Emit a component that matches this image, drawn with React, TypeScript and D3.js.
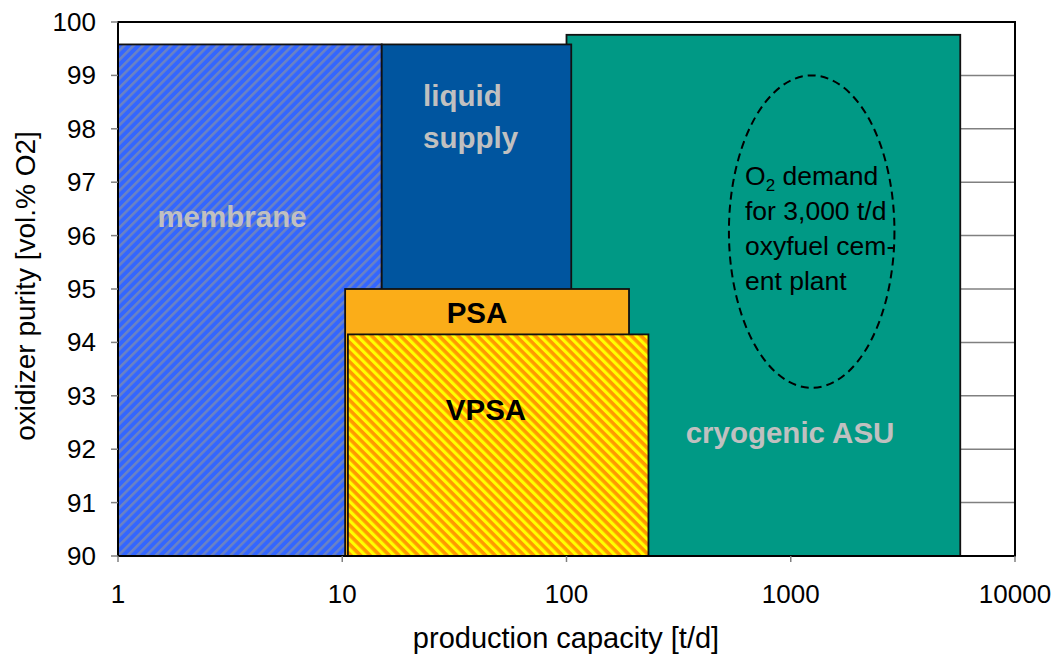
import { useEffect, useRef } from "react";
import * as d3 from "d3";

// technology regions: capacity range [t/d] and purity range [vol.% O2]
const techNames = ["membrane", "cryogenic ASU", "liquid supply", "PSA", "VPSA"];
const capMin = [1, 100, 15, 10.3, 10.6];
const capMax = [15, 5700, 105, 190, 232];
const purityMin = [90, 90, 90, 90, 90];
const purityMax = [99.58, 99.76, 99.58, 95.0, 94.15];
const fills = ["url(#hatchBlue)", "#009985", "#00559f", "#fbad18", "url(#hatchOrange)"];

const yTicks = [90, 91, 92, 93, 94, 95, 96, 97, 98, 99, 100];
const xTicks = [1, 10, 100, 1000, 10000];

// dashed ellipse for the cement plant O2 demand
const ellipseCap = [530, 2900];
const ellipsePurity = [93.15, 99.0];
const ellipseText = ["demand", "for 3,000 t/d", "oxyfuel cem-", "ent plant"];

export default function App() {
  const svgRef = useRef<SVGSVGElement>(null);

  useEffect(() => {
    const width = 1056;
    const height = 659;
    const margin = { left: 118, right: 41, top: 22, bottom: 103 };
    const font = "'Liberation Sans', Arial, sans-serif";

    const svg = d3.select(svgRef.current);
    svg.selectAll("*").remove();

    const x = d3
      .scaleLog()
      .domain([1, 10000])
      .range([margin.left, width - margin.right]);
    const y = d3
      .scaleLinear()
      .domain([90, 100])
      .range([height - margin.bottom, margin.top]);

    const defs = svg.append("defs");
    const blue = defs
      .append("pattern")
      .attr("id", "hatchBlue")
      .attr("patternUnits", "userSpaceOnUse")
      .attr("width", 6.6)
      .attr("height", 6.6)
      .attr("patternTransform", "rotate(45)");
    blue.append("rect").attr("width", 6.6).attr("height", 6.6).attr("fill", "#3366ff");
    blue.append("rect").attr("width", 2.6).attr("height", 6.6).attr("fill", "#6a82c4");

    const orange = defs
      .append("pattern")
      .attr("id", "hatchOrange")
      .attr("patternUnits", "userSpaceOnUse")
      .attr("width", 6.8)
      .attr("height", 6.8)
      .attr("patternTransform", "rotate(-45)");
    orange.append("rect").attr("width", 6.8).attr("height", 6.8).attr("fill", "#ff9900");
    orange.append("rect").attr("width", 3.2).attr("height", 6.8).attr("fill", "#ffff00");

    // gridlines
    svg
      .append("g")
      .selectAll("line")
      .data(yTicks)
      .join("line")
      .attr("x1", x(1))
      .attr("x2", x(10000))
      .attr("y1", (d) => y(d))
      .attr("y2", (d) => y(d))
      .attr("stroke", "#808080")
      .attr("stroke-width", 1.5);

    // regions
    svg
      .append("g")
      .selectAll("rect")
      .data(techNames)
      .join("rect")
      .attr("x", (_, i) => x(capMin[i]))
      .attr("y", (_, i) => y(purityMax[i]))
      .attr("width", (_, i) => x(capMax[i]) - x(capMin[i]))
      .attr("height", (_, i) => y(purityMin[i]) - y(purityMax[i]))
      .attr("fill", (_, i) => fills[i])
      .attr("stroke", "#111")
      .attr("stroke-width", 1.8);

    // frame
    svg
      .append("rect")
      .attr("x", x(1))
      .attr("y", y(100))
      .attr("width", x(10000) - x(1))
      .attr("height", y(90) - y(100))
      .attr("fill", "none")
      .attr("stroke", "#000")
      .attr("stroke-width", 2);

    // y ticks
    const yAxis = svg.append("g");
    yAxis
      .selectAll("line")
      .data(yTicks)
      .join("line")
      .attr("x1", x(1) - 7)
      .attr("x2", x(1))
      .attr("y1", (d) => y(d))
      .attr("y2", (d) => y(d))
      .attr("stroke", "#808080")
      .attr("stroke-width", 1.5);
    yAxis
      .selectAll("text")
      .data(yTicks)
      .join("text")
      .attr("x", 96)
      .attr("y", (d) => y(d) + 9)
      .attr("text-anchor", "end")
      .attr("font-family", font)
      .attr("font-size", 26)
      .text((d) => d);

    // x ticks
    const xAxis = svg.append("g");
    xAxis
      .selectAll("line")
      .data(xTicks)
      .join("line")
      .attr("x1", (d) => x(d))
      .attr("x2", (d) => x(d))
      .attr("y1", y(90))
      .attr("y2", y(90) + 6)
      .attr("stroke", "#808080")
      .attr("stroke-width", 1.5);
    xAxis
      .selectAll("text")
      .data(xTicks)
      .join("text")
      .attr("x", (d) => x(d))
      .attr("y", 603)
      .attr("text-anchor", "middle")
      .attr("font-family", font)
      .attr("font-size", 26)
      .text((d) => d);

    // axis titles
    svg
      .append("text")
      .attr("x", 566)
      .attr("y", 648)
      .attr("text-anchor", "middle")
      .attr("font-family", font)
      .attr("font-size", 29)
      .text("production capacity [t/d]");
    svg
      .append("text")
      .attr("transform", "translate(35,286) rotate(-90)")
      .attr("text-anchor", "middle")
      .attr("font-family", font)
      .attr("font-size", 28)
      .text("oxidizer purity [vol.% O2]");

    // region labels
    const label = (tx: number, ty: number, t: string, color: string, anchor = "middle") =>
      svg
        .append("text")
        .attr("x", tx)
        .attr("y", ty)
        .attr("text-anchor", anchor)
        .attr("font-family", font)
        .attr("font-weight", "bold")
        .attr("font-size", 29.5)
        .attr("fill", color)
        .text(t);
    label(232, 227, "membrane", "#c0c0c0");
    label(423, 106, "liquid", "#c0c0c0", "start");
    label(423, 148, "supply", "#c0c0c0", "start");
    label(477, 323, "PSA", "#000");
    label(486, 420, "VPSA", "#000");
    label(790, 443, "cryogenic ASU", "#c0c0c0");

    // ellipse
    const ecx = (x(ellipseCap[0]) + x(ellipseCap[1])) / 2;
    const ecy = (y(ellipsePurity[0]) + y(ellipsePurity[1])) / 2;
    svg
      .append("ellipse")
      .attr("cx", ecx)
      .attr("cy", ecy)
      .attr("rx", (x(ellipseCap[1]) - x(ellipseCap[0])) / 2)
      .attr("ry", (y(ellipsePurity[0]) - y(ellipsePurity[1])) / 2)
      .attr("fill", "none")
      .attr("stroke", "#000")
      .attr("stroke-width", 2)
      .attr("stroke-dasharray", "8,5");

    const et = svg
      .append("g")
      .attr("font-family", font)
      .attr("font-size", 26.5)
      .attr("fill", "#000");
    const first = et.append("text").attr("x", 745).attr("y", 185);
    first.append("tspan").text("O");
    first.append("tspan").attr("font-size", 17).attr("dy", 6).text("2");
    first.append("tspan").attr("dy", -6).text(" " + ellipseText[0]);
    ellipseText.slice(1).forEach((t, i) => {
      et.append("text")
        .attr("x", 745)
        .attr("y", 220 + i * 35)
        .text(t);
    });
  }, []);

  return (
    <div style={{ width: 1056, height: 659 }}>
      <svg
        ref={svgRef}
        width={1056}
        height={659}
        style={{ position: "absolute", left: 0, top: 0, background: "#fff" }}
      ></svg>
    </div>
  );
}
